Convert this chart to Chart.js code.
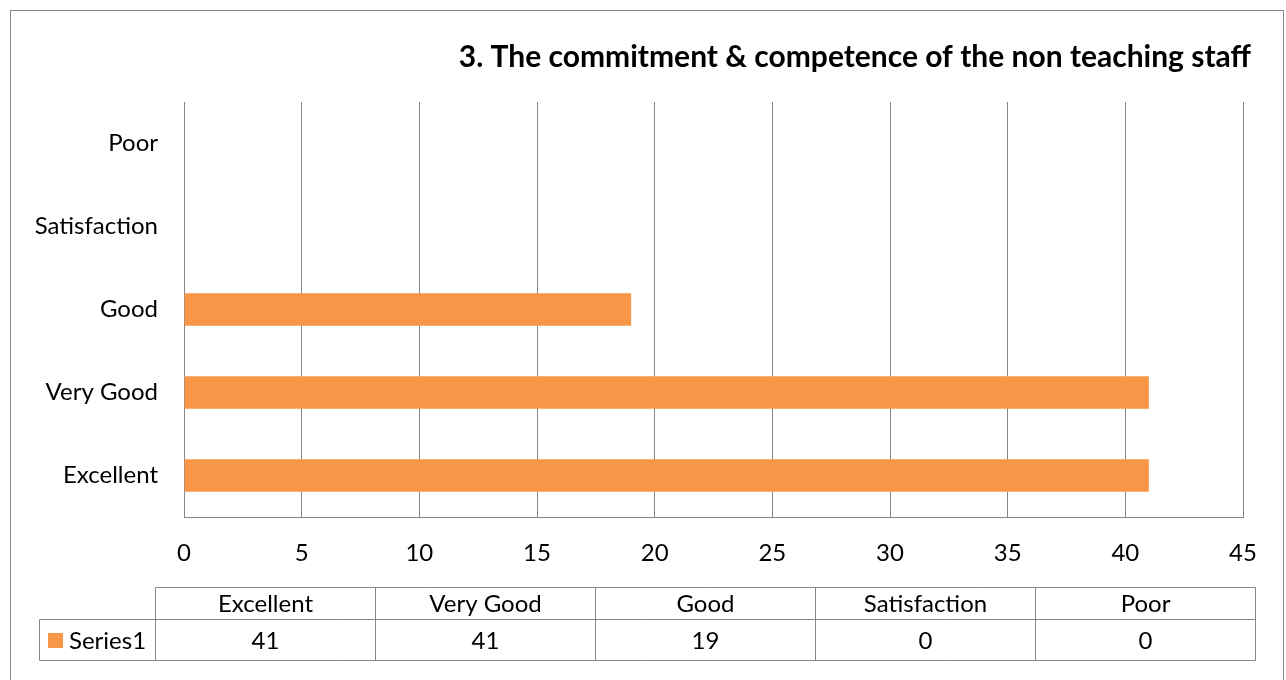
<!DOCTYPE html>
<html>
<head>
<meta charset="utf-8">
<script src="https://cdn.jsdelivr.net/npm/chart.js@4.4.1/dist/chart.umd.min.js"></script>
<style>
  html, body { margin: 0; padding: 0; background: #fff; }
  #wrap { width: 1286px; height: 680px; }
</style>
</head>
<body>
<div id="wrap"><canvas id="staffChart" width="1286" height="680"></canvas></div>
<script>
// data
var categories = ["Excellent", "Very Good", "Good", "Satisfaction", "Poor"];
var series1 = [41, 41, 19, 0, 0];
var seriesName = "Series1";
var xTicks = [0, 5, 10, 15, 20, 25, 30, 35, 40, 45];
var chartTitle = "3. The commitment & competence of the non teaching staff";

var barColor = "#F79646";
var lineColor = "#878787";

// title, outer frame + data table under the chart
var tablePlugin = {
    id: 'dataTable',
    afterDraw: function (chart) {
        var c = chart.ctx;
        var labels = chart.data.labels;
        var vals = chart.data.datasets[0].data;
        c.save();
        c.strokeStyle = lineColor;
        c.lineWidth = 1;
        // frame
        c.strokeRect(10.5, 10.5, 1273, 700);

        // title
        c.fillStyle = '#000';
        c.font = 'bold 30px Lato';
        c.textAlign = 'right';
        c.textBaseline = 'middle';
        c.fillText(chartTitle, 1251, 57);

        var x0 = 155.5, colW = 220, top = 587.5, mid = 619.5, bot = 660.5, left = 39.5;
        var x1 = x0 + colW * labels.length;
        c.beginPath();
        c.moveTo(x0, top); c.lineTo(x1, top);
        c.moveTo(left, mid); c.lineTo(x1, mid);
        c.moveTo(left, bot); c.lineTo(x1, bot);
        c.moveTo(left, mid); c.lineTo(left, bot);
        for (var i = 0; i <= labels.length; i++) {
            c.moveTo(x0 + colW * i, top);
            c.lineTo(x0 + colW * i, bot);
        }
        c.stroke();

        c.font = '24px Lato';
        c.textAlign = 'center';
        for (var j = 0; j < labels.length; j++) {
            var cx = x0 + colW * j + colW / 2;
            c.fillText(labels[j], cx, (top + mid) / 2 + 1);
            c.fillText(String(vals[j]), cx, (mid + bot) / 2 + 1);
        }
        // legend key
        c.fillStyle = barColor;
        c.fillRect(48, 633, 15, 15);
        c.fillStyle = '#000';
        c.textAlign = 'left';
        c.fillText(chart.data.datasets[0].label, 69, (mid + bot) / 2 + 1);
        c.restore();
    }
};

var ctx = document.getElementById("staffChart").getContext('2d');
var staffChart = new Chart(ctx, {
    type: 'bar',
    data: {
        labels: categories,
        datasets: [{
            label: seriesName,
            data: series1,
            backgroundColor: barColor,
            borderWidth: 0,
            barPercentage: 0.39,
            categoryPercentage: 1
        }]
    },
    options: {
        indexAxis: 'y',
        responsive: false,
        animation: false,
        layout: { padding: { left: 20, right: 43, top: 102, bottom: 103 } },
        plugins: {
            legend: { display: false },
            tooltip: { enabled: false },
            title: { display: false }
        },
        scales: {
            x: {
                min: 0,
                max: 45,
                afterBuildTicks: function (scale) {
                    scale.ticks = xTicks.map(function (v) { return { value: v }; });
                },
                afterFit: function (scale) { scale.height = 60; },
                grid: { color: lineColor, lineWidth: 1, drawTicks: false },
                border: { color: lineColor, width: 1 },
                ticks: { color: '#000', font: { family: 'Lato', size: 24 }, padding: 22, maxRotation: 0 }
            },
            y: {
                reverse: true,
                afterFit: function (scale) { scale.width = 164; },
                grid: { display: false, drawTicks: false },
                border: { display: true, color: lineColor, width: 1 },
                ticks: { color: '#000', font: { family: 'Lato', size: 24 }, padding: 26 }
            }
        }
    },
    plugins: [tablePlugin]
});
</script>
</body>
</html>
